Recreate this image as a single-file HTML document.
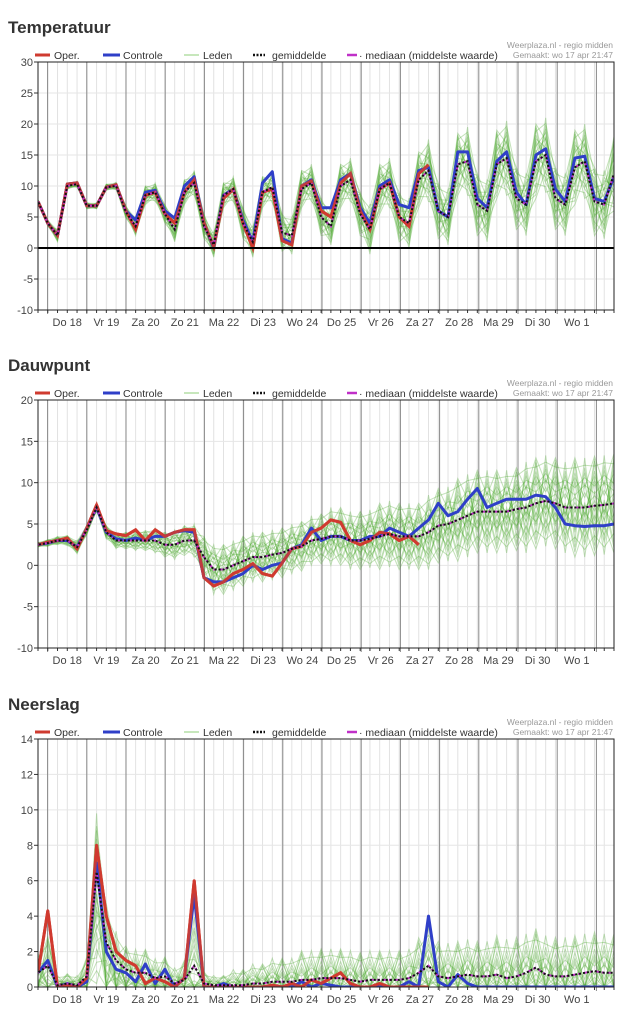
<!DOCTYPE html>
<html><head><meta charset="utf-8">
<style>
html,body{margin:0;padding:0;background:#fff;}
svg{display:block;font-family:"Liberation Sans",sans-serif;}
</style></head>
<body>
<svg id="root" width="626" height="1024" viewBox="0 0 626 1024"></svg>
<script>
// ---------- DATA ----------
const dayLabels = ["Do 18","Vr 19","Za 20","Zo 21","Ma 22","Di 23","Wo 24","Do 25","Vr 26","Za 27","Zo 28","Ma 29","Di 30","Wo 1"];
const tempTicks = [30,25,20,15,10,5,0,-5,-10];
const dewTicks = [20,15,10,5,0,-5,-10];
const rainTicks = [14,12,10,8,6,4,2,0];

const tempOper = [7.5, 4,2,10.3,10.5, 6.8,6.8,9.8,10.2, 6,3,8.5,9, 5.5,4,9,11, 4,0.2,8,9.5, 4,0,9,9.5, 1.2,0.5,10,10.8, 6,5,10.5,12, 6,3,9.5,10.5, 5,3.5,12,13.4];
const tempCtrl = [7.5, 4,2,10.3,10.5, 6.8,6.8,9.8,10.2, 6,4.5,9,9.3, 6,4.8,10,11.5, 4,0,8.5,9.5, 4.5,1,10.5,12.3, 1.5,0.8,10,11, 6.5,6.5,11,12, 6.5,4,10,11, 7,6.5,12.5,13, 6,5,15.5,15.5, 8,6.5,14,15.5, 9,7,15,16, 9.5,7.5,14.5,14.8, 8,7.5,11.5];
const tempMean = [7.5, 4,2,10,10.3, 6.8,6.8,9.8,10, 5.8,3.5,8.5,9, 5.5,3,9,10.5, 3.5,0.5,8.5,9.5, 4,1,9,9.8, 2.5,2,9.5,10.5, 5,3.5,10,11, 5.5,3,9.5,10.5, 5,4,11,12.5, 6,5,13.5,14, 7,6,13.5,14.5, 8,7,14,15, 8,7,13,14, 7.5,7,12];
const tempSpread = [0.3, 0.5,1,0.5,0.5, 0.5,0.5,0.5,0.6, 1,1.5,1.5,1.5, 1.5,2,2,2, 2,2,2,2, 2.5,2.5,2.5,2.5, 3,3,3,3, 3,3,3.5,3.5, 3.5,4,4,4, 4,4,4.5,5, 4.5,4.5,5,5.5, 5,5,5.5,6, 5,5,6,6, 5,5,6,6, 5.5,5.5,6];

const dewOper = [2.5,2.8,3,3.3,2,4.5,7.3,4.2,3.8,3.6,4.3,3,4.3,3.5,4,4.3,4.3,-1.5,-2.5,-2,-1,-0.5,0.2,-1,-1.3,0.3,2,2.3,4,4.5,5.5,5.2,3,2.5,3,4,3.8,3,3.5,2.5];
const dewCtrl = [2.5,2.7,3,3,2.2,4.5,7,4,3.2,3,3.3,3,3.5,3.5,4,4.2,4,-1.5,-2,-2,-1.5,-1,0,-0.5,0,0.3,2,2.5,4.5,3,3.5,3.5,3,3,3.5,3.5,4.5,4,3.5,4.5,5.5,7.5,6,6.5,8,9.3,7,7.5,8,8,8,8.5,8.3,7,5,4.8,4.7,4.8,4.8,5];
const dewMean = [2.5,2.7,3,3,2.2,4.3,7,4,3,3,3,3,3,2.5,2.5,3,3,1,-0.5,-0.5,0,0.5,1,1,1.3,1.5,2,2.3,3,3.2,3.5,3.5,3,3,3.2,3.5,3.8,3.5,3.5,3.5,4,4.8,5,5.5,6,6.5,6.5,6.5,6.5,6.8,7,7.5,7.8,7.5,7,7,7,7.2,7.3,7.5];
const dewSpread = [0.3,0.4,0.5,0.6,0.8,0.6,0.5,0.8,1,1,1.2,1.2,1.5,1.5,1.8,1.8,2,2.5,3,3,3,3,3,3,3,3,3,3,3,3,3.5,3.5,3.5,3.5,3.5,4,4,4,4,4,4.5,4.5,4.5,5,5,5,5,5,5,5,5.5,5.5,5.5,5.5,5.5,6,6,6,6,6];

const rainOper = [0.8,4.3,0,0.1,0,0.5,8,4,2,1.5,1.2,0.2,0.5,0.3,0,0.5,6,0,0,0,0,0,0,0,0.1,0,0.2,0,0.4,0.2,0.5,0.8,0.2,0,0,0.2,0,0,0,0,0];
const rainCtrl = [0.8,1.5,0,0.2,0,0.3,7,2,1,0.8,0.3,1.3,0.2,1,0,0.5,5.2,0,0,0.2,0,0,0,0,0,0,0,0.3,0,0.2,0.1,0,0,0,0,0,0,0,0.3,0,4,0.3,0,0.7,0.2,0,0,0,0,0,0,0,0,0,0,0,0,0,0,0];
const rainMean = [0.8,1.2,0.1,0.2,0.1,0.6,6.5,2.5,1.5,1,0.8,0.8,0.5,0.6,0.2,0.4,1.2,0.2,0.1,0.1,0.1,0.1,0.2,0.2,0.3,0.3,0.3,0.4,0.4,0.5,0.5,0.5,0.4,0.3,0.4,0.4,0.4,0.4,0.5,0.8,1.2,0.6,0.5,0.6,0.7,0.6,0.6,0.7,0.5,0.6,0.8,1.1,0.7,0.6,0.6,0.7,0.8,0.9,0.8,0.8];
const rainSpread = [1,1.5,0.5,0.5,0.5,1,3,2,1.5,1.2,1.2,1.2,1,1,0.8,1,2.5,0.6,0.5,0.5,0.8,0.8,1,1,1.2,1.2,1.2,1.5,1.5,1.5,1.5,1.5,1.5,1.5,1.5,1.5,1.5,1.5,1.5,1.8,2,1.8,1.8,1.8,1.8,1.8,1.8,2,2,2,2,2,2,2,2,2,2,2,2,2];

const memberOffDay = [-1,-0.85,-0.7,-0.6,-0.5,-0.4,-0.3,-0.2,-0.1,0,0.1,0.2,0.3,0.4,0.5,0.6,0.7,0.85,1,-0.75,-0.35,0.05,0.45,0.8,-0.15];
const memberOffNight = [0.3,-0.6,0.9,-0.2,0.5,-1,0.1,0.7,-0.4,0.2,-0.8,0.6,-0.1,1,-0.5,0.4,-0.3,0.8,-0.7,0,0.95,-0.9,0.25,-0.45,0.55];

// ---------- DRAW ----------
const NS = "http://www.w3.org/2000/svg";
const root = document.getElementById('root');
const X0 = 38, X1 = 614, NPTS = 60;
const xAt = i => X0 + (X1 - X0) * i / (NPTS - 1);
const dayLineX = d => 47.6 + 39.2 * d;
function mk(tag, attrs, parent){ const e=document.createElementNS(NS,tag); for(const k in attrs) e.setAttribute(k,attrs[k]); (parent||root).appendChild(e); return e; }

function chart(cfg){
  const g = mk('g',{});
  
  
  const yAt = v => cfg.top + (cfg.max - v) / (cfg.max - cfg.min) * (cfg.bottom - cfg.top);
  const t = mk('text',{x:8,y:cfg.top-29,'font-size':17,'font-weight':'bold',fill:'#333'},g);
  t.textContent = cfg.title;
  
  
  for(let i=0;i<NPTS;i++) mk('line',{x1:xAt(i),x2:xAt(i),y1:cfg.top,y2:cfg.bottom,stroke:'#e2e2e2','stroke-width':1},g);
  cfg.ticks.forEach(v=>{
    mk('line',{x1:X0,x2:X1,y1:yAt(v),y2:yAt(v),stroke:'#e6e6e6'},g);
    mk('line',{x1:X0-4,x2:X0,y1:yAt(v),y2:yAt(v),stroke:'#333'},g);
    const l = mk('text',{x:X0-5,y:yAt(v)+4,'font-size':11,fill:'#444','text-anchor':'end'},g);
    l.textContent = v;
    
    
  });
  for(let d=0; d<15; d++){
    const x = dayLineX(d);
    mk('line',{x1:x,x2:x,y1:cfg.top,y2:cfg.bottom+4,stroke:'#888','stroke-width':1},g);
    if(d<dayLabels.length){
      const l = mk('text',{x:x+19.6,y:cfg.bottom+16,'font-size':11,fill:'#444','text-anchor':'middle'},g);
      l.textContent = dayLabels[d];
      
      
    }
  }
  for(let i=0;i<NPTS;i++) mk('line',{x1:xAt(i),x2:xAt(i),y1:cfg.bottom,y2:cfg.bottom+3,stroke:'#333'},g);
  const clipId = 'clip-'+cfg.name;
  const cp = mk('clipPath',{id:clipId},g); mk('rect',{x:X0,y:cfg.top,width:X1-X0,height:cfg.bottom-cfg.top},cp);
  const pg = mk('g',{'clip-path':'url(#'+clipId+')'},g);
  const path = arr => arr.map((v,i)=>(i?'L':'M')+xAt(i).toFixed(1)+','+yAt(v).toFixed(1)).join('');
  for(let k=0;k<memberOffDay.length;k++){
    const vals = cfg.mean.map((m,i)=>{ const o = (i%2===0?memberOffDay:memberOffNight)[k]; let v = m + cfg.spread[i]*(cfg.clamp0 ? (o*1.6-0.5) : o); return cfg.clamp0? Math.max(0,v):v; });
    const p = mk('path',{d:path(vals),fill:'none',stroke:'#4aa82a','stroke-opacity':0.33,'stroke-width':1},pg);
    
    
  }
  if(cfg.zeroLine) mk('line',{x1:X0,x2:X1,y1:yAt(0),y2:yAt(0),stroke:'#000','stroke-width':2},g);
  const oper = mk('path',{d:path(cfg.oper),fill:'none',stroke:'#cf3b30','stroke-width':3,'stroke-linejoin':'round'},pg);
  
  
  const ctrl = mk('path',{d:path(cfg.ctrl),fill:'none',stroke:'#2f3fc8','stroke-width':3,'stroke-linejoin':'round'},pg);
  
  
  mk('path',{d:path(cfg.oper),fill:'none',stroke:'#cf3b30','stroke-width':3,'stroke-opacity':0.9},pg);
  const med = mk('path',{d:path(cfg.mean),fill:'none',stroke:'#c030c8','stroke-width':2,'stroke-dasharray':'3,3'},pg);
  
  
  const mean = mk('path',{d:path(cfg.mean),fill:'none',stroke:'#111','stroke-width':2,'stroke-dasharray':'2,2','stroke-dashoffset':3},pg);
  
  
  mk('rect',{x:X0,y:cfg.top,width:X1-X0,height:cfg.bottom-cfg.top,fill:'none',stroke:'#222','stroke-width':1},g);
  const ly = cfg.top - 7;
  const lg = mk('g',{},g);
  
  
  const items = [
    {x:35, w:15, c:'#cf3b30', sw:3, da:'', label:'Oper.', tx:54},
    {x:103,w:17, c:'#2f3fc8', sw:3, da:'', label:'Controle', tx:123},
    {x:184,w:15, c:'#8fcf78', sw:1, da:'', label:'Leden', tx:203},
    {x:253,w:12, c:'#111', sw:2.5, da:'2,1.5', label:'gemiddelde', tx:272},
    {x:347,w:10, c:'#c030c8', sw:2.5, da:'', label:'· mediaan (middelste waarde)', tx:359}
  ];
  items.forEach(it=>{
    mk('line',{x1:it.x,x2:it.x+it.w,y1:ly,y2:ly,stroke:it.c,'stroke-width':it.sw,'stroke-dasharray':it.da},lg);
    const tt = mk('text',{x:it.tx,y:ly+4,'font-size':10.5,fill:'#333'},lg);
    tt.textContent = it.label;
    
    
  });
  const s1 = mk('text',{x:613,y:cfg.top-14,'font-size':8.5,fill:'#999','text-anchor':'end'},g);
  s1.textContent = 'Weerplaza.nl - regio midden';
  
  
  const s2 = mk('text',{x:613,y:cfg.top-4,'font-size':8.5,fill:'#999','text-anchor':'end'},g);
  s2.textContent = 'Gemaakt: wo 17 apr 21:47';
  
  
}

chart({name:'temperatuur',title:'Temperatuur',top:62,bottom:310,min:-10,max:30,ticks:tempTicks,oper:tempOper,ctrl:tempCtrl,mean:tempMean,spread:tempSpread,zeroLine:true});
chart({name:'dauwpunt',title:'Dauwpunt',top:400,bottom:648,min:-10,max:20,ticks:dewTicks,oper:dewOper,ctrl:dewCtrl,mean:dewMean,spread:dewSpread});
chart({name:'neerslag',title:'Neerslag',top:739,bottom:987,min:0,max:14,ticks:rainTicks,oper:rainOper,ctrl:rainCtrl,mean:rainMean,spread:rainSpread,clamp0:true});
</script>
</body></html>
